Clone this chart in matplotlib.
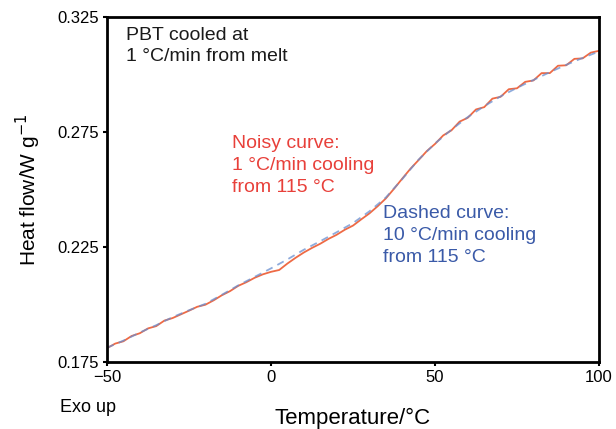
import matplotlib
matplotlib.use("Agg")
import matplotlib.pyplot as plt

plt.rcParams['font.family'] = ['Liberation Sans', 'DejaVu Sans']

# dashed curve: 10 C/min cooling from 115 C (every 5 C)
temp_dashed = list(range(-50, 101, 5))
heat_dashed = [0.1812, 0.1843, 0.1878, 0.1910, 0.1945, 0.1975, 0.2003, 0.2042,
               0.2083, 0.2120, 0.2157, 0.2196, 0.2238, 0.2275, 0.2314, 0.2354,
               0.2405, 0.2465, 0.2545, 0.2630, 0.2700, 0.2760, 0.2815, 0.2862,
               0.2905, 0.2942, 0.2976, 0.3010, 0.3042, 0.3072, 0.3100]

# noisy curve: 1 C/min cooling from 115 C (every 2.5 C)
temp_noisy = [-50 + 2.5 * i for i in range(61)]
heat_noisy = [0.1810, 0.1830, 0.1840, 0.1863, 0.1875, 0.1896, 0.1906, 0.1930,
              0.1941, 0.1957, 0.1973, 0.1990, 0.1999, 0.2018, 0.2040, 0.2058,
              0.2081, 0.2097, 0.2116, 0.2131, 0.2142, 0.2150, 0.2178, 0.2203,
              0.2226, 0.2246, 0.2264, 0.2285, 0.2303, 0.2325, 0.2343, 0.2370,
              0.2396, 0.2427, 0.2461, 0.2503, 0.2547, 0.2590, 0.2628, 0.2667,
              0.2698, 0.2735, 0.2757, 0.2795, 0.2812, 0.2848, 0.2858, 0.2895,
              0.2903, 0.2936, 0.2940, 0.2968, 0.2974, 0.3006, 0.3006, 0.3038,
              0.3040, 0.3068, 0.3070, 0.3095, 0.3103]

xticks = [-50, 0, 50, 100]
yticks = [0.175, 0.225, 0.275, 0.325]

fig = plt.figure(figsize=(6.16, 4.29), dpi=100)
ax = fig.add_axes([0.1737, 0.1562, 0.7987, 0.8042])

ax.plot(temp_noisy, heat_noisy, color='#ee6a45', lw=1.3)
ax.plot(temp_dashed, heat_dashed, color='#6a8fd0', lw=1.3, alpha=0.75,
        dashes=(4, 3))

ax.set_xlim(-50, 100)
ax.set_ylim(0.175, 0.325)
ax.set_xticks(xticks)
ax.set_yticks(yticks)
ax.set_yticklabels(['%.3f' % v for v in yticks])
ax.tick_params(direction='out', length=3, width=1.5, labelsize=12, pad=3)
for s in ax.spines.values():
    s.set_linewidth(2)

ax.set_xlabel('Temperature/\u00b0C', fontsize=16, labelpad=16)
ax.set_ylabel('Heat flow/W g$^{-1}$', fontsize=15, labelpad=10)

ax.text(0.038, 0.972, 'PBT cooled at\n1 \u00b0C/min from melt', transform=ax.transAxes,
        ha='left', va='top', fontsize=14, color='#1a1a1a', linespacing=1.3)
ax.text(0.254, 0.657, 'Noisy curve:\n1 \u00b0C/min cooling\nfrom 115 \u00b0C',
        transform=ax.transAxes, ha='left', va='top', fontsize=14,
        color='#e8403a', linespacing=1.38)
ax.text(0.56, 0.456, 'Dashed curve:\n10 \u00b0C/min cooling\nfrom 115 \u00b0C',
        transform=ax.transAxes, ha='left', va='top', fontsize=14,
        color='#3a5aa8', linespacing=1.38)

fig.text(60 / 616, 1 - 407 / 429, 'Exo up', ha='left', va='center', fontsize=13)

fig.savefig('out.png', dpi=100)
